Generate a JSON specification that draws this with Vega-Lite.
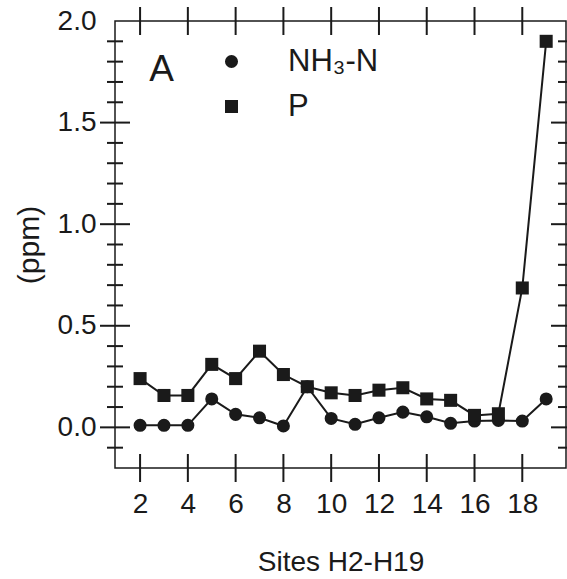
{
  "$schema": "https://vega.github.io/schema/vega-lite/v6.json",
  "width": 451,
  "height": 447,
  "autosize": {"type": "none"},
  "padding": {"left": 115, "top": 21, "right": 1, "bottom": 111},
  "background": "white",
  "config": {
    "view": {"stroke": "#1a1a1a", "strokeWidth": 1.5},
    "font": "Liberation Sans",
    "axis": {"grid": false, "domain": false, "ticks": false, "labelColor": "#1a1a1a", "titleColor": "#1a1a1a", "labelFont": "Liberation Sans", "titleFont": "Liberation Sans", "titleFontWeight": "normal", "labelFlush": false, "labelOverlap": false, "labelBound": false}
  },
  "datasets": {
    "yticks": [
      {"v": -0.1}, {"v": 0}, {"v": 0.1}, {"v": 0.2}, {"v": 0.3}, {"v": 0.4}, {"v": 0.5}, {"v": 0.6}, {"v": 0.7}, {"v": 0.8}, {"v": 0.9},
      {"v": 1}, {"v": 1.1}, {"v": 1.2}, {"v": 1.3}, {"v": 1.4}, {"v": 1.5}, {"v": 1.6}, {"v": 1.7}, {"v": 1.8}, {"v": 1.9}
    ],
    "xticks": [{"v": 2}, {"v": 4}, {"v": 6}, {"v": 8}, {"v": 10}, {"v": 12}, {"v": 14}, {"v": 16}, {"v": 18}]
  },
  "data": {
    "values": [
      {"site": 2, "series": "NH₃-N", "value": 0.01},
      {"site": 3, "series": "NH₃-N", "value": 0.01},
      {"site": 4, "series": "NH₃-N", "value": 0.01},
      {"site": 5, "series": "NH₃-N", "value": 0.14},
      {"site": 6, "series": "NH₃-N", "value": 0.064},
      {"site": 7, "series": "NH₃-N", "value": 0.047},
      {"site": 8, "series": "NH₃-N", "value": 0.007},
      {"site": 9, "series": "NH₃-N", "value": 0.2},
      {"site": 10, "series": "NH₃-N", "value": 0.044},
      {"site": 11, "series": "NH₃-N", "value": 0.015},
      {"site": 12, "series": "NH₃-N", "value": 0.047},
      {"site": 13, "series": "NH₃-N", "value": 0.075},
      {"site": 14, "series": "NH₃-N", "value": 0.052},
      {"site": 15, "series": "NH₃-N", "value": 0.02},
      {"site": 16, "series": "NH₃-N", "value": 0.031},
      {"site": 17, "series": "NH₃-N", "value": 0.034},
      {"site": 18, "series": "NH₃-N", "value": 0.031},
      {"site": 19, "series": "NH₃-N", "value": 0.14},
      {"site": 2, "series": "P", "value": 0.24},
      {"site": 3, "series": "P", "value": 0.157},
      {"site": 4, "series": "P", "value": 0.157},
      {"site": 5, "series": "P", "value": 0.31},
      {"site": 6, "series": "P", "value": 0.24},
      {"site": 7, "series": "P", "value": 0.375},
      {"site": 8, "series": "P", "value": 0.26},
      {"site": 9, "series": "P", "value": 0.2},
      {"site": 10, "series": "P", "value": 0.17},
      {"site": 11, "series": "P", "value": 0.157},
      {"site": 12, "series": "P", "value": 0.183},
      {"site": 13, "series": "P", "value": 0.195},
      {"site": 14, "series": "P", "value": 0.14},
      {"site": 15, "series": "P", "value": 0.133},
      {"site": 16, "series": "P", "value": 0.059},
      {"site": 17, "series": "P", "value": 0.067},
      {"site": 18, "series": "P", "value": 0.686},
      {"site": 19, "series": "P", "value": 1.9}
    ]
  },
  "layer": [
    {
      "mark": {"type": "line", "color": "#1a1a1a", "strokeWidth": 2},
      "encoding": {
        "x": {
          "field": "site", "type": "quantitative",
          "scale": {"domain": [0.95, 19.83], "nice": false, "zero": false},
          "axis": {"orient": "bottom", "values": [2, 4, 6, 8, 10, 12, 14, 16, 18], "labelFontSize": 28, "labelPadding": 22, "title": "Sites H2-H19", "titleFontSize": 28, "titlePadding": 30}
        },
        "y": {
          "field": "value", "type": "quantitative",
          "scale": {"domain": [-0.2, 2.0], "nice": false, "zero": false},
          "axis": {
            "orient": "left",
            "values": [0, 0.5, 1, 1.5, 2],
            "format": ".1f",
            "labelFontSize": 28, "labelPadding": 19,
            "title": "(ppm)", "titleFontSize": 30, "titlePadding": 13
          }
        },
        "detail": {"field": "series"}
      }
    },
    {
      "mark": {"type": "point", "filled": true, "opacity": 1, "color": "#1a1a1a", "size": 170},
      "encoding": {
        "x": {"field": "site", "type": "quantitative", "axis": null},
        "y": {"field": "value", "type": "quantitative", "axis": null},
        "shape": {
          "field": "series", "type": "nominal",
          "scale": {"domain": ["NH₃-N", "P"], "range": ["circle", "square"]},
          "legend": {"orient": "none", "legendX": 101, "legendY": 25, "title": null, "labelFontSize": 31, "labelFont": "Liberation Sans", "labelColor": "#1a1a1a", "symbolSize": 170, "symbolFillColor": "#1a1a1a", "symbolStrokeWidth": 0, "symbolOpacity": 1, "labelOffset": 41, "rowPadding": 13, "padding": 0}
        }
      }
    },
    {
      "data": {"name": "yticks"},
      "mark": {"type": "tick", "orient": "horizontal", "color": "#1a1a1a", "thickness": 2, "opacity": 1},
      "encoding": {
        "x": {"datum": 0.95, "type": "quantitative", "axis": null},
        "y": {"field": "v", "type": "quantitative", "axis": null},
        "size": {"condition": {"test": "abs(datum.v*2-round(datum.v*2))<0.001", "value": 30}, "value": 16}
      }
    },
    {
      "data": {"name": "yticks"},
      "mark": {"type": "tick", "orient": "horizontal", "color": "#1a1a1a", "thickness": 2, "opacity": 1},
      "encoding": {
        "x": {"datum": 19.83, "type": "quantitative", "axis": null},
        "y": {"field": "v", "type": "quantitative", "axis": null},
        "size": {"condition": {"test": "abs(datum.v*2-round(datum.v*2))<0.001", "value": 30}, "value": 16}
      }
    },
    {
      "data": {"name": "xticks"},
      "mark": {"type": "tick", "orient": "vertical", "color": "#1a1a1a", "thickness": 2, "opacity": 1, "size": 28},
      "encoding": {
        "x": {"field": "v", "type": "quantitative", "axis": null},
        "y": {"datum": -0.2, "type": "quantitative", "axis": null}
      }
    },
    {
      "data": {"name": "xticks"},
      "mark": {"type": "tick", "orient": "vertical", "color": "#1a1a1a", "thickness": 2, "opacity": 1, "size": 28},
      "encoding": {
        "x": {"field": "v", "type": "quantitative", "axis": null},
        "y": {"datum": 2.0, "type": "quantitative", "axis": null}
      }
    },
    {
      "data": {"values": [{"label": "A", "x": 2.38, "y": 1.704}]},
      "mark": {"type": "text", "fontSize": 37, "align": "left", "baseline": "alphabetic", "color": "#1a1a1a", "font": "Liberation Sans"},
      "encoding": {
        "x": {"field": "x", "type": "quantitative", "axis": null},
        "y": {"field": "y", "type": "quantitative", "axis": null},
        "text": {"field": "label"}
      }
    }
  ],
  "resolve": {"axis": {"x": "independent", "y": "independent"}}
}
